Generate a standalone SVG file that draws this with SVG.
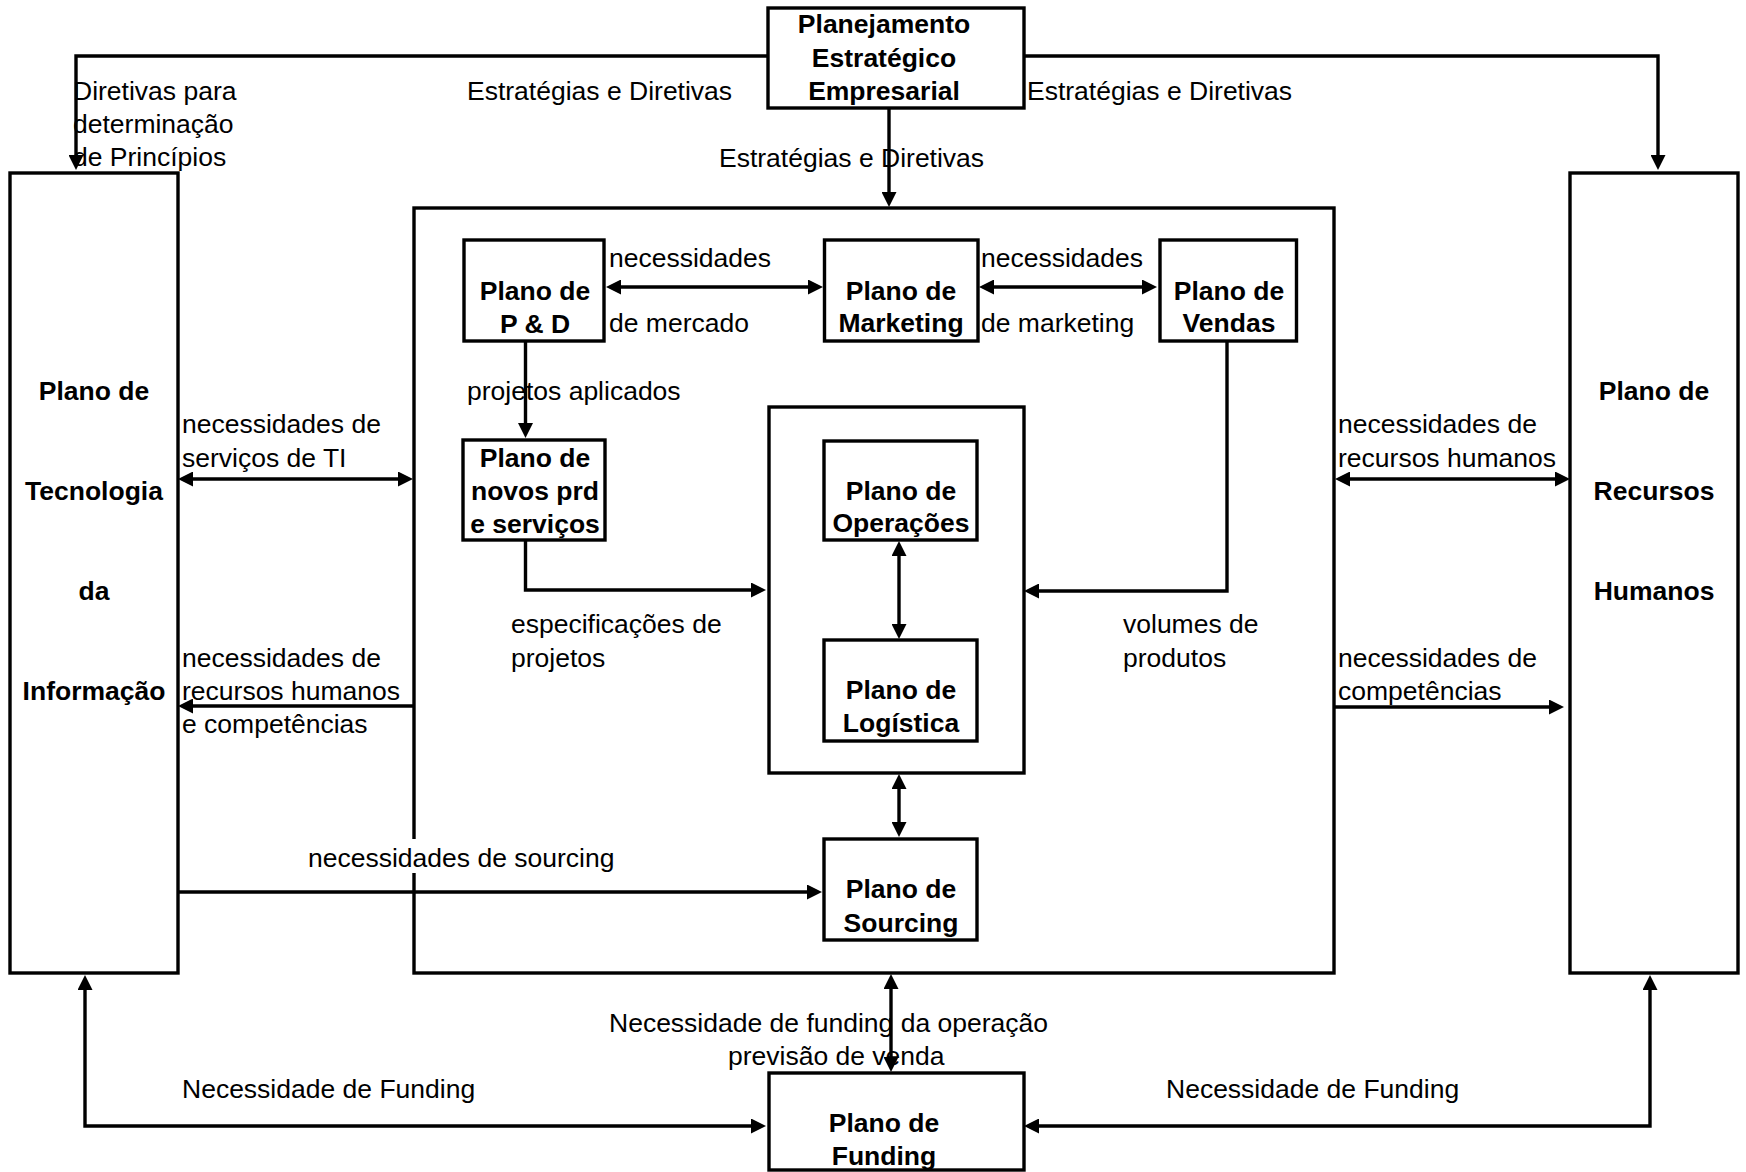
<svg xmlns="http://www.w3.org/2000/svg" width="1746" height="1172" viewBox="0 0 1746 1172">
  <defs>
    <style>
      .box { fill: #ffffff; stroke: #000000; stroke-width: 3.4; }
      .frame { fill: none; stroke: #000000; stroke-width: 3.4; }
      .wire { fill: none; stroke: #000000; stroke-width: 3.4; }
      .title { font-family: "Liberation Sans", Arial, sans-serif; font-size: 26.5px; font-weight: bold; fill: #000000; text-anchor: middle; }
      .lbl { font-family: "Liberation Sans", Arial, sans-serif; font-size: 26.5px; fill: #000000; }
    </style>
    <!-- tip sits 8px beyond the path end so the stroke never pokes past the point -->
    <marker id="head" viewBox="0 0 15 15" markerWidth="15" markerHeight="15" refX="7" refY="7.5" orient="auto-start-reverse" markerUnits="userSpaceOnUse">
      <path d="M0,0 L15,7.5 L0,15 z" fill="#000000"/>
    </marker>
  </defs>

  <rect width="1746" height="1172" fill="#ffffff"/>

  <!-- large enclosing frame of the business plans -->
  <g id="plano-negocio">
    <rect class="frame" x="414" y="208" width="920" height="765"/>
  </g>
  <g id="nucleo-operacional">
    <rect class="frame" x="769" y="407" width="255" height="366"/>
  </g>

  <g id="connectors">
    <path class="wire" d="M768,56 H76 V162" marker-end="url(#head)"/>
    <path class="wire" d="M1024,56 H1658 V162" marker-end="url(#head)"/>
    <path class="wire" d="M889,108 V199" marker-end="url(#head)"/>
    <path class="wire" d="M614,287 H815" marker-start="url(#head)" marker-end="url(#head)"/>
    <path class="wire" d="M987,287 H1149" marker-start="url(#head)" marker-end="url(#head)"/>
    <path class="wire" d="M525.5,341 V430" marker-end="url(#head)"/>
    <path class="wire" d="M186,479 H405" marker-start="url(#head)" marker-end="url(#head)"/>
    <path class="wire" d="M414,706 H186" marker-end="url(#head)"/>
    <path class="wire" d="M525.5,540 V590 H758" marker-end="url(#head)"/>
    <path class="wire" d="M1227,341 V591 H1032" marker-end="url(#head)"/>
    <path class="wire" d="M899,549 V631" marker-start="url(#head)" marker-end="url(#head)"/>
    <path class="wire" d="M899,782 V829" marker-start="url(#head)" marker-end="url(#head)"/>
    <path class="wire" d="M1343,479 H1562" marker-start="url(#head)" marker-end="url(#head)"/>
    <path class="wire" d="M1334,707 H1556" marker-end="url(#head)"/>
    <path class="wire" d="M178,892 H814" marker-end="url(#head)"/>
    <path class="wire" d="M891,982 V1064" marker-start="url(#head)" marker-end="url(#head)"/>
    <path class="wire" d="M85,983 V1126 H758" marker-start="url(#head)" marker-end="url(#head)"/>
    <path class="wire" d="M1650,983 V1126 H1032" marker-start="url(#head)" marker-end="url(#head)"/>
  </g>

  <g id="planejamento-estrategico">
    <rect class="box" x="768" y="8" width="256" height="100"/>
    <text class="title" x="884" y="33">Planejamento</text>
    <text class="title" x="884" y="67">Estratégico</text>
    <text class="title" x="884" y="100">Empresarial</text>
  </g>

  <g id="plano-ti">
    <rect class="box" x="10" y="173" width="168" height="800"/>
    <text class="title" x="94" y="400">Plano de</text>
    <text class="title" x="94" y="500">Tecnologia</text>
    <text class="title" x="94" y="600">da</text>
    <text class="title" x="94" y="700">Informação</text>
  </g>

  <g id="plano-rh">
    <rect class="box" x="1570" y="173" width="168" height="800"/>
    <text class="title" x="1654" y="400">Plano de</text>
    <text class="title" x="1654" y="500">Recursos</text>
    <text class="title" x="1654" y="600">Humanos</text>
  </g>

  <g id="plano-pd">
    <rect class="box" x="464" y="240" width="140" height="101"/>
    <text class="title" x="535" y="300">Plano de</text>
    <text class="title" x="535" y="333">P &amp; D</text>
  </g>

  <g id="plano-marketing">
    <rect class="box" x="824.5" y="240" width="153.5" height="101"/>
    <text class="title" x="901" y="300">Plano de</text>
    <text class="title" x="901" y="332">Marketing</text>
  </g>

  <g id="plano-vendas">
    <rect class="box" x="1160" y="240" width="136.5" height="101"/>
    <text class="title" x="1229" y="300">Plano de</text>
    <text class="title" x="1229" y="332">Vendas</text>
  </g>

  <g id="plano-novos-produtos">
    <rect class="box" x="463" y="440" width="142" height="100"/>
    <text class="title" x="535" y="467">Plano de</text>
    <text class="title" x="535" y="500">novos prd</text>
    <text class="title" x="535" y="533">e serviços</text>
  </g>

  <g id="plano-operacoes">
    <rect class="box" x="824" y="441" width="153" height="99"/>
    <text class="title" x="901" y="500">Plano de</text>
    <text class="title" x="901" y="532">Operações</text>
  </g>

  <g id="plano-logistica">
    <rect class="box" x="824" y="640" width="153" height="101"/>
    <text class="title" x="901" y="699">Plano de</text>
    <text class="title" x="901" y="732">Logística</text>
  </g>

  <g id="plano-sourcing">
    <rect class="box" x="824" y="839" width="153" height="101"/>
    <text class="title" x="901" y="898">Plano de</text>
    <text class="title" x="901" y="932">Sourcing</text>
  </g>

  <g id="plano-funding">
    <rect class="box" x="769" y="1073" width="255" height="97"/>
    <text class="title" x="884" y="1132">Plano de</text>
    <text class="title" x="884" y="1165">Funding</text>
  </g>

  <!-- connector labels -->
  <g id="labels">
    <text class="lbl" x="73" y="100">Diretivas para</text>
    <text class="lbl" x="73" y="133">determinação</text>
    <text class="lbl" x="73" y="166">de Princípios</text>

    <text class="lbl" x="467" y="100">Estratégias e Diretivas</text>
    <text class="lbl" x="1027" y="100">Estratégias e Diretivas</text>
    <text class="lbl" x="719" y="167">Estratégias e Diretivas</text>

    <text class="lbl" x="609" y="267">necessidades</text>
    <text class="lbl" x="609" y="332">de mercado</text>
    <text class="lbl" x="981" y="267">necessidades</text>
    <text class="lbl" x="981" y="332">de marketing</text>

    <text class="lbl" x="467" y="400">projetos aplicados</text>

    <text class="lbl" x="182" y="433">necessidades de</text>
    <text class="lbl" x="182" y="467">serviços de TI</text>

    <text class="lbl" x="182" y="667">necessidades de</text>
    <text class="lbl" x="182" y="700">recursos humanos</text>
    <text class="lbl" x="182" y="733">e competências</text>

    <text class="lbl" x="511" y="633">especificações de</text>
    <text class="lbl" x="511" y="667">projetos</text>

    <text class="lbl" x="1123" y="633">volumes de</text>
    <text class="lbl" x="1123" y="667">produtos</text>

    <text class="lbl" x="1338" y="433">necessidades de</text>
    <text class="lbl" x="1338" y="467">recursos humanos</text>
    <text class="lbl" x="1338" y="667">necessidades de</text>
    <text class="lbl" x="1338" y="700">competências</text>

    <rect x="306" y="839" width="314" height="34" fill="#ffffff"/>
    <text class="lbl" x="308" y="867">necessidades de sourcing</text>

    <text class="lbl" x="609" y="1032">Necessidade de funding da operação</text>
    <text class="lbl" x="728" y="1065">previsão de venda</text>

    <text class="lbl" x="182" y="1098">Necessidade de Funding</text>
    <text class="lbl" x="1166" y="1098">Necessidade de Funding</text>
  </g>
</svg>
